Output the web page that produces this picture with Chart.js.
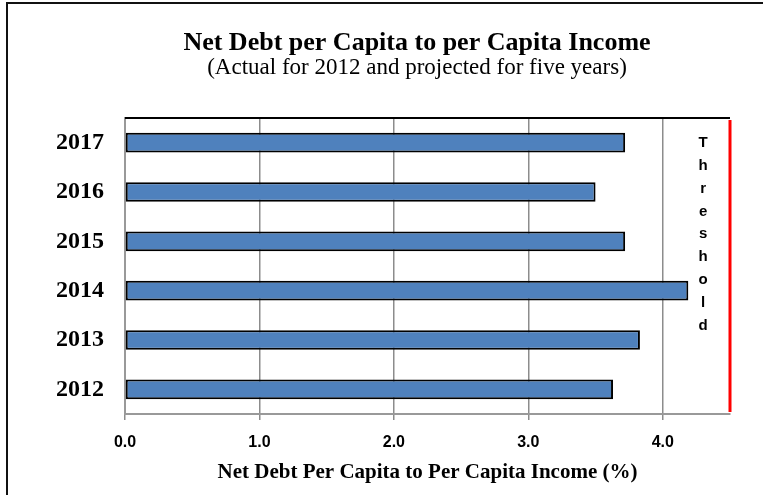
<!DOCTYPE html>
<html lang="en">
<head>
    <meta charset="UTF-8">
    <title>Net Debt per Capita to per Capita Income</title>
    <script src="https://cdn.jsdelivr.net/npm/chart.js"></script>
    <style>
        body {
            margin: 0;
            padding: 0;
            background: white;
        }
        .frame {
            position: relative;
            width: 763px;
            height: 495px;
        }
        .frame::before {
            content: "";
            position: absolute;
            left: 6px;
            top: 2px;
            right: 0;
            bottom: 0;
            border-left: 2px solid #111;
            border-top: 2px solid #111;
            pointer-events: none;
        }
    </style>
</head>
<body>
    <div class="frame">
        <canvas id="debtChart" width="763" height="495"></canvas>
    </div>

    <script>
        const years = ['2012', '2013', '2014', '2015', '2016', '2017'];
        const debtRatio = [3.63, 3.83, 4.19, 3.72, 3.50, 3.72];
        const threshold = 4.5;
        const thresholdLabel = 'Threshold';
        const titleText = 'Net Debt per Capita to per Capita Income';
        const subtitleText = '(Actual for 2012 and projected for five years)';

        const serif = "'Liberation Serif', 'Times New Roman', serif";
        const sans = "'Liberation Sans', Arial, sans-serif";

        // titles sit a bit left of the plot centre, like the original
        const titlePlugin = {
            id: 'titles',
            afterDraw(chart) {
                const { ctx } = chart;
                const cx = 417;
                ctx.save();
                ctx.fillStyle = '#000';
                ctx.textAlign = 'center';
                ctx.textBaseline = 'middle';
                ctx.font = 'bold 26px ' + serif;
                ctx.fillText(titleText, cx, 43);
                ctx.font = '23px ' + serif;
                ctx.fillText(subtitleText, cx, 68);
                ctx.restore();
            }
        };

        // top border of the plot, red threshold line and its stacked label
        const thresholdPlugin = {
            id: 'thresholdLine',
            afterDatasetsDraw(chart) {
                const { ctx, chartArea, scales } = chart;
                const x = scales.x.getPixelForValue(threshold);
                ctx.save();
                ctx.strokeStyle = '#000';
                ctx.lineWidth = 2;
                ctx.beginPath();
                ctx.moveTo(chartArea.left, chartArea.top);
                ctx.lineTo(x, chartArea.top);
                ctx.stroke();

                ctx.strokeStyle = '#ff0000';
                ctx.lineWidth = 3;
                ctx.beginPath();
                ctx.moveTo(x, chartArea.top + 2);
                ctx.lineTo(x, chartArea.bottom - 2);
                ctx.stroke();

                ctx.fillStyle = '#000';
                ctx.font = 'bold 15px ' + sans;
                ctx.textAlign = 'center';
                ctx.textBaseline = 'middle';
                const lx = scales.x.getPixelForValue(4.3);
                thresholdLabel.split('').forEach((ch, i) => {
                    ctx.fillText(ch, lx, chartArea.top + 25 + i * 22.8);
                });
                ctx.restore();
            }
        };

        const ctx = document.getElementById('debtChart').getContext('2d');
        new Chart(ctx, {
            type: 'bar',
            data: {
                labels: years,
                datasets: [{
                    data: debtRatio,
                    backgroundColor: '#4F81BD',
                    borderColor: '#000',
                    borderWidth: 2,
                    borderSkipped: false,
                    barPercentage: 0.4,
                    categoryPercentage: 1.0
                }]
            },
            options: {
                indexAxis: 'y',
                responsive: false,
                animation: false,
                layout: {
                    padding: { left: 40, right: 33, top: 118, bottom: 0 }
                },
                plugins: {
                    legend: { display: false },
                    tooltip: { enabled: false },
                    title: { display: false }
                },
                scales: {
                    x: {
                        min: 0,
                        max: 4.5,
                        afterFit(scale) { scale.height = 81; },
                        ticks: {
                            stepSize: 1,
                            includeBounds: false,
                            color: '#000',
                            padding: 13,
                            font: { family: sans, size: 16, weight: 'bold' },
                            callback: (v) => v.toFixed(1)
                        },
                        grid: {
                            color: '#8c8c8c',
                            lineWidth: 1.5,
                            tickLength: 6
                        },
                        border: { color: '#999', width: 2 },
                        title: {
                            display: true,
                            text: 'Net Debt Per Capita to Per Capita Income (%)',
                            color: '#000',
                            font: { family: serif, size: 21, weight: 'bold', lineHeight: 1.2 },
                            padding: { top: 0, bottom: 10 }
                        }
                    },
                    y: {
                        reverse: true,
                        afterFit(scale) { scale.width = 85; },
                        ticks: {
                            color: '#000',
                            padding: 21,
                            font: { family: serif, size: 24, weight: 'bold' }
                        },
                        grid: { display: false, drawTicks: false },
                        border: { color: '#999', width: 2 }
                    }
                }
            },
            plugins: [thresholdPlugin, titlePlugin]
        });
    </script>
</body>
</html>
